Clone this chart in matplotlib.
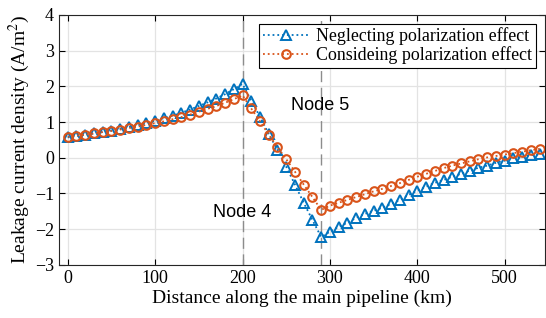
import numpy as np
import matplotlib.pyplot as plt

plt.rcParams['mathtext.fontset'] = 'stix'

# Расстояние вдоль трубопровода, км
distance = np.arange(0, 550, 10)

# Без учёта поляризации
neglecting = [0.57, 0.61, 0.64, 0.68, 0.72, 0.76, 0.81, 0.86, 0.91, 0.97,
              1.04, 1.11, 1.18, 1.26, 1.35, 1.45, 1.55, 1.66, 1.78, 1.92,
              2.07, 1.60, 1.15, 0.67, 0.22, -0.25, -0.75, -1.26, -1.74, -2.22,
              -2.07, -1.93, -1.82, -1.68, -1.57, -1.48, -1.40, -1.29, -1.18, -1.04,
              -0.92, -0.81, -0.70, -0.62, -0.53, -0.45, -0.36, -0.28, -0.22, -0.14,
              -0.08, 0.00, 0.03, 0.07, 0.10]

# С учётом поляризации
considering = [0.59, 0.62, 0.65, 0.68, 0.72, 0.75, 0.79, 0.83, 0.87, 0.92,
               0.97, 1.02, 1.08, 1.14, 1.21, 1.29, 1.37, 1.45, 1.54, 1.64,
               1.75, 1.38, 1.02, 0.65, 0.30, -0.04, -0.39, -0.75, -1.10, -1.46,
               -1.34, -1.26, -1.18, -1.10, -1.02, -0.94, -0.87, -0.79, -0.71, -0.62,
               -0.53, -0.45, -0.37, -0.29, -0.22, -0.16, -0.10, -0.04, 0.01, 0.05,
               0.09, 0.13, 0.17, 0.21, 0.25]

nodes = [200, 290]
node_labels = ['Node 4', 'Node 5']

blue = '#0072BD'
orange = '#D95319'
serif = ['Liberation Serif', 'DejaVu Serif']
sans = ['Liberation Sans', 'DejaVu Sans']

fig = plt.figure(figsize=(5.46, 3.18), dpi=100)
ax = fig.add_axes([0.108, 0.167, 0.89, 0.786])

ax.grid(True, color='#e3e3e3', linewidth=0.9)
ax.set_axisbelow(True)

for xn in nodes:
    ax.axvline(xn, color='#8c8c8c', linestyle=(0, (8, 4)), linewidth=1.0, zorder=1)

ax.plot(distance, neglecting, ':', color=blue, linewidth=1.3,
        marker='^', markersize=7, markerfacecolor='none', markeredgewidth=1.4,
        label='Neglecting polarization effect')
ax.plot(distance, considering, ':', color=orange, linewidth=1.3,
        marker='o', markersize=6.2, markerfacecolor='none', markeredgewidth=1.5,
        label='Consideing polarization effect')

ax.text(199, -1.53, node_labels[0], ha='center', va='center', fontsize=13, family=sans)
ax.text(289, 1.47, node_labels[1], ha='center', va='center', fontsize=13, family=sans)

ax.set_xlim(-10, 546)
ax.set_ylim(-3, 4)
ax.set_xticks(np.arange(0, 600, 100))
ax.set_yticks(np.arange(-3, 5, 1))
ax.tick_params(direction='in', top=True, right=True, labelsize=13, length=4)
for lab in ax.get_xticklabels() + ax.get_yticklabels():
    lab.set_family(serif)

ax.set_xlabel('Distance along the main pipeline (km)', fontsize=14, family=serif, labelpad=2)
ax.set_ylabel('Leakage current density (A/m$^2$)', fontsize=14, family=serif, labelpad=2)

for s in ax.spines.values():
    s.set_color('#262626')
    s.set_linewidth(0.8)

leg = ax.legend(loc='upper right', prop={'family': serif, 'size': 12.9},
                fancybox=False, edgecolor='black', framealpha=1,
                borderaxespad=0.5, handlelength=2.6, labelspacing=0.05,
                borderpad=0.2, handletextpad=0.4)
leg.get_frame().set_linewidth(0.8)

fig.savefig('out.png', dpi=100)
